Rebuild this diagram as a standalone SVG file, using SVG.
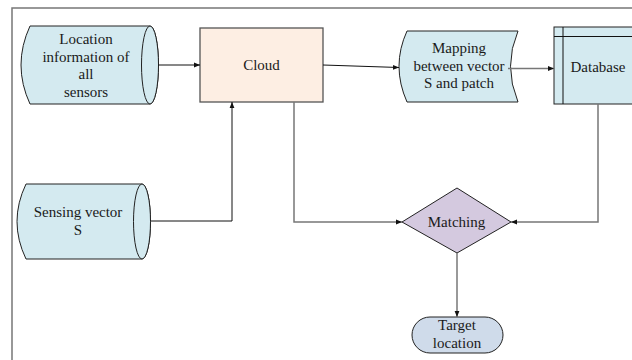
<svg xmlns="http://www.w3.org/2000/svg" width="632" height="360" viewBox="0 0 632 360">
  <style>
    text { font-family: "Liberation Serif", "Times New Roman", serif; font-size: 15px; fill: #1a1a1a; text-anchor: middle; }
    .store { fill: #d4eaf0; stroke: #222; stroke-width: 1; }
    .proc { fill: #fdeee3; stroke: #555; stroke-width: 1.3; }
    .dec { fill: #d4c9df; stroke: #222; stroke-width: 1; }
    .term { fill: #cfdbea; stroke: #222; stroke-width: 1; }
    .edge { fill: none; stroke: #111; stroke-width: 1; }
    .edge-g { fill: none; stroke: #777; stroke-width: 1.5; }
    .frame { fill: none; stroke: #777; stroke-width: 1.5; }
  </style>
  <defs>
    <marker id="arr" viewBox="0 0 10 10" refX="10" refY="5" markerWidth="6" markerHeight="6" markerUnits="userSpaceOnUse" orient="auto">
      <path d="M0,1 L10,5 L0,9 z" fill="#111"/>
    </marker>
  </defs>

  <rect width="632" height="360" fill="#fff"/>
  <!-- page frame -->
  <path class="frame" d="M12,360 V8 H632"/>

  <g id="location">
    <path class="store" d="M30,26 H150 A8.5,39 0 0 1 150,104 H30 Q12,65 30,26 Z"/>
    <ellipse class="store" cx="150" cy="65" rx="8.5" ry="39"/>
    <text x="86" y="44">Location</text>
    <text x="86" y="61.5">information of</text>
    <text x="86" y="79">all</text>
    <text x="86" y="96.5">sensors</text>
  </g>

  <g id="cloud">
    <rect class="proc" x="200" y="28" width="123" height="74"/>
    <text x="261.5" y="70">Cloud</text>
  </g>

  <g id="mapping">
    <path class="store" d="M407,31 H518 Q503,66 518,102 H407 Q391,66 407,31 Z"/>
    <text x="459" y="53">Mapping</text>
    <text x="459" y="70.5">between vector</text>
    <text x="459" y="88">S and patch</text>
  </g>

  <g id="database">
    <rect class="store" x="554" y="27" width="90" height="77"/>
    <path class="edge" d="M554,36.5 H632 M563,27 V104"/>
    <text x="598" y="72">Database</text>
  </g>

  <g id="sensing">
    <path class="store" d="M26,184 H142 A8.5,37.5 0 0 1 142,259 H26 Q8,221.5 26,184 Z"/>
    <ellipse class="store" cx="142" cy="221.5" rx="8.5" ry="37.5"/>
    <text x="78" y="217">Sensing vector</text>
    <text x="78" y="234.5">S</text>
  </g>

  <g id="matching">
    <path class="dec" d="M402,222 L457,188 L511,222 L457,253 Z"/>
    <text x="456.5" y="227">Matching</text>
  </g>

  <g id="target">
    <rect class="term" x="412" y="317" width="91" height="36" rx="18" ry="18"/>
    <text x="457" y="330">Target</text>
    <text x="457" y="348">location</text>
  </g>

  <g id="connectors">
    <path class="edge" d="M158.5,65 H200" marker-end="url(#arr)"/>
    <path class="edge" d="M323,65 L399,67.5" marker-end="url(#arr)"/>
    <path class="edge-g" d="M508,68.5 H554" marker-end="url(#arr)"/>
    <path class="edge" d="M150.5,221 H232 V102" marker-end="url(#arr)"/>
    <path class="edge-g" d="M294,102 V222 H402" marker-end="url(#arr)"/>
    <path class="edge-g" d="M598,104 V222 H511" marker-end="url(#arr)"/>
    <path class="edge-g" d="M457,253 V317" marker-end="url(#arr)"/>
  </g>
</svg>
